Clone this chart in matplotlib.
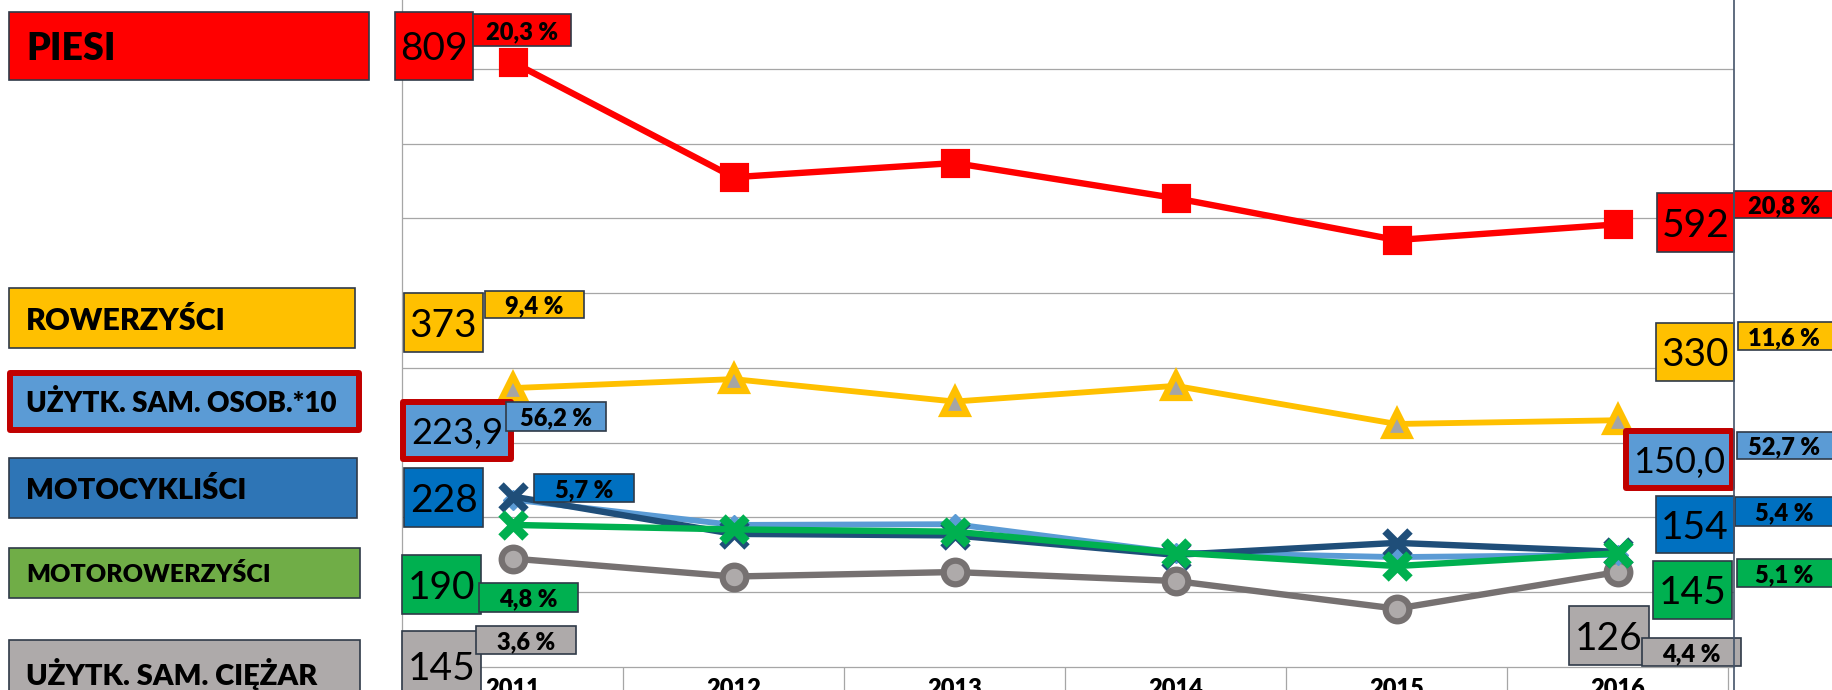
import numpy as np
import matplotlib
matplotlib.use("Agg")
import matplotlib.pyplot as plt
from matplotlib.patches import Rectangle
from matplotlib.lines import Line2D

plt.rcParams['font.family'] = ['Lato', 'DejaVu Sans']

# ---- data ----
years = ["2011", "2012", "2013", "2014", "2015", "2016"]
piesi = [809, 655, 674, 627, 571, 592]
rowerzysci = [373, 385, 355, 376, 325, 330]
osobowe = [223.9, 190, 191, 153, 147, 150]      # wartosc / 10
motocyklisci = [228, 178, 176, 150, 166, 154]
motorowerzysci = [190, 184, 181, 153, 135, 152]
ciezarowe = [145, 121, 127, 115, 78, 127]

legend_labels = ["PIESI", "ROWERZYŚCI", "UŻYTK. SAM. OSOB.*10",
                 "MOTOCYKLIŚCI", "MOTOROWERZYŚCI", "UŻYTK. SAM. CIĘŻAR"]
start_vals = ["809", "373", "223,9", "228", "190", "145"]
start_pct = ["20,3 %", "9,4 %", "56,2 %", "5,7 %", "4,8 %", "3,6 %"]
end_vals = ["592", "330", "150,0", "154", "145", "126"]
end_pct = ["20,8 %", "11,6 %", "52,7 %", "5,4 %", "5,1 %", "4,4 %"]

legend_colors = ["#FF0000", "#FFC000", "#5B9BD5", "#2E75B6", "#70AD47", "#AEAAAA"]
value_colors = ["#FF0000", "#FFC000", "#5B9BD5", "#0070C0", "#00B050", "#AEAAAA"]

W, H = 1832, 690
fig = plt.figure(figsize=(W / 100, H / 100), dpi=100)
EDGE = "#2F3A48"


def fx(x):
    return x / W


def fy(y):
    return 1 - y / H


def box(x0, y0, x1, y1, fc, text, size, weight="normal", tx=None, red=False,
        ha="center", tdy=0):
    if red:
        fig.add_artist(Rectangle((fx(x0 + 3), fy(y1 - 3)), (x1 - x0 - 6) / W,
                                 (y1 - y0 - 6) / H, transform=fig.transFigure,
                                 fc=fc, ec="#C00000", lw=4.3, joinstyle="round"))
    else:
        fig.add_artist(Rectangle((fx(x0), fy(y1)), (x1 - x0) / W, (y1 - y0) / H,
                                 transform=fig.transFigure, fc=fc, ec=EDGE, lw=1.2))
    if tx is None:
        tx = (x0 + x1) / 2
    fig.text(fx(tx), fy((y0 + y1) / 2 + tdy), text, ha=ha, va="center_baseline",
             fontsize=size, fontweight=weight, color="black")


# ---- plot area ----
ax = fig.add_axes([fx(402), 23 / H, (1734 - 402) / W, 667 / H])
x = np.arange(len(years))

ax.plot(x, piesi, color="#FF0000", lw=4.6, marker="s", ms=18, mfc="#FF0000",
        mec="#FF0000", mew=3, zorder=5)
ax.plot(x, rowerzysci, color="#FFC000", lw=4.2, marker="^", ms=17, mfc="#A5A5A5",
        mec="#FFC000", mew=4.5, zorder=5)
ax.plot(x, ciezarowe, color="#767171", lw=4.6, marker="o", ms=17, mfc="#AEAAAA",
        mec="#767171", mew=4.5, zorder=4)
ax.plot(x, osobowe, color="#5B9BD5", lw=4.2, marker="D", ms=10, mfc="#5B9BD5",
        mec="#5B9BD5", zorder=5)
ax.plot(x, motocyklisci, color="#1F4E79", lw=4.6, marker="x", ms=18, mew=5.5,
        mec="#1F4E79", zorder=6)
ax.plot(x, motorowerzysci, color="#00B050", lw=4.6, marker="x", ms=17, mew=6.5,
        mec="#00B050", zorder=7)

ax.set_xlim(-0.5, -0.5 + 1332 / 221)
ax.set_ylim(0, 892)
ax.set_yticks(range(100, 900, 100))
ax.yaxis.grid(True, color="#A6A6A6", lw=0.9)
ax.tick_params(axis="y", length=0, labelleft=False)

ax.set_xticks(np.arange(-0.5, 6, 1))
ax.set_xticklabels([])
ax.tick_params(axis="x", which="major", length=20, color="#A6A6A6", width=0.9)
ax.set_xticks(x, minor=True)
ax.set_xticklabels(years, minor=True, fontsize=17, fontweight="heavy")
ax.tick_params(axis="x", which="minor", length=0, pad=8)

for s in ["top", "right"]:
    ax.spines[s].set_visible(False)
for s in ["left", "bottom"]:
    ax.spines[s].set_color("#A6A6A6")
    ax.spines[s].set_linewidth(0.9)
ax.set_axisbelow(True)

fig.add_artist(Line2D([fx(1734), fx(1734)], [0, 1], color="#44546A", lw=1.2,
                      transform=fig.transFigure))

# ---- legend boxes (left) ----
leg_boxes = [(9, 12, 369, 80), (9, 288, 355, 348), (7, 370, 362, 433),
             (9, 458, 357, 518), (9, 548, 360, 598), (9, 640, 360, 702)]
leg_sizes = [27, 22, 20, 21, 18, 21]
for i, (b, lab) in enumerate(zip(leg_boxes, legend_labels)):
    box(*b, legend_colors[i], lab, leg_sizes[i], "heavy", tx=26, ha="left",
        red=(i == 2))

# ---- value boxes (start) ----
start_boxes = [(395, 12, 473, 80), (404, 293, 483, 352), (400, 399, 514, 462),
               (404, 468, 483, 527), (402, 555, 481, 614), (402, 631, 481, 700)]
start_pboxes = [(473, 14, 571, 46), (485, 291, 584, 318), (506, 402, 606, 431),
                (534, 474, 634, 502), (479, 583, 578, 612), (476, 626, 576, 654)]
for i in range(6):
    box(*start_boxes[i], value_colors[i], start_vals[i], 26 if i == 2 else 28,
        red=(i == 2))
    box(*start_pboxes[i], value_colors[i], start_pct[i], 17, "heavy")

# ---- value boxes (end) ----
end_boxes = [(1657, 193, 1734, 252), (1656, 323, 1734, 381), (1623, 428, 1735, 491),
             (1656, 496, 1734, 553), (1653, 561, 1732, 619), (1569, 606, 1649, 665)]
end_pboxes = [(1734, 191, 1845, 218), (1738, 322, 1845, 350), (1737, 432, 1845, 459),
              (1735, 497, 1845, 526), (1737, 559, 1845, 587), (1642, 638, 1741, 666)]
for i in range(6):
    box(*end_boxes[i], value_colors[i], end_vals[i], 26 if i == 2 else 28,
        red=(i == 2))
    p = end_pboxes[i]
    tx = 1784 if p[2] > W else None
    box(*p, value_colors[i], end_pct[i], 17, "heavy", tx=tx)

fig.savefig("out.png", dpi=100)
